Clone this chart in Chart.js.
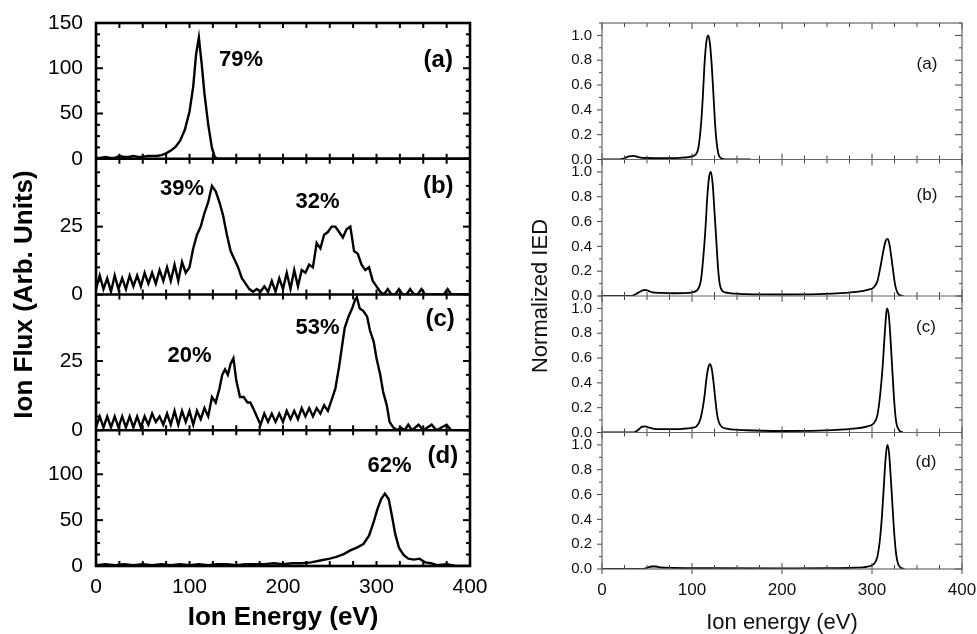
<!DOCTYPE html>
<html lang="en">
<head>
<meta charset="UTF-8">
<title>Ion energy distributions</title>
<script src="https://cdn.jsdelivr.net/npm/chart.js"></script>
<style>
  body { margin: 0; background: #fff; }
  #wrap { position: relative; width: 977px; height: 634px; overflow: hidden; }
  #wrap canvas { position: absolute; top: 0; }
  #fluxChart { left: 0; }
  #iedChart { left: 490px; }
</style>
</head>
<body>
<div id="wrap">
  <canvas id="fluxChart" width="490" height="634"></canvas>
  <canvas id="iedChart" width="487" height="634"></canvas>
</div>
<script>
const FONT = "'Liberation Sans', Arial, Helvetica, sans-serif";

// ---- left figure: measured ion flux (arb. units) ----
const fluxEnergyA = [0, 5, 10, 15, 20, 25, 30, 35, 40, 45,
  50, 55, 60, 65, 70, 75, 80, 85, 90, 95,
  100, 104, 107, 110, 113, 116, 120, 124, 127, 130, 400];
const fluxA = [1, 1, 2, 1, 1, 3, 2, 2, 3, 2,
  2, 3, 3, 3, 4, 6, 9, 13, 20, 32,
  52, 80, 115, 134, 105, 72, 38, 12, 2, 0, 0];

const fluxEnergyB = [0, 4, 8, 12, 16, 20, 24, 28, 32, 36,
  40, 44, 48, 52, 56, 60, 64, 68, 72, 76,
  80, 84, 88, 92, 96, 100, 104, 108, 112, 116,
  120, 124, 128, 132, 136, 140, 144, 148, 152, 156,
  160, 164, 168, 172, 176, 180, 184, 188, 192, 196,
  200, 204, 208, 212, 216, 220, 224, 228, 232, 236,
  240, 244, 248, 252, 256, 260, 264, 268, 272, 276,
  280, 284, 288, 292, 296, 300, 304, 308, 312, 316,
  320, 324, 328, 332, 336, 340, 344, 348, 352,
  360, 372, 376, 380, 400];
const fluxB = [2, 7, 2, 6, 1, 7, 2, 6, 2, 7,
  3, 7, 3, 8, 4, 8, 4, 9, 5, 10,
  5, 11, 5, 12, 8, 10, 17, 22, 25, 30,
  34, 40, 38, 34, 29, 22, 16, 13, 10, 6,
  4, 2, 1, 2, 1, 3, 1, 5, 1, 6,
  2, 8, 2, 9, 3, 9, 8, 11, 10, 19,
  17, 22, 23, 25, 25, 23, 21, 24, 25, 16,
  15, 11, 9, 10, 5, 3, 1, 0, 2, 0,
  0, 2, 0, 0, 2, 0, 0, 2, 0,
  0, 0, 2, 0, 0];

const fluxEnergyC = [0, 4, 8, 12, 16, 20, 24, 28, 32, 36,
  40, 44, 48, 52, 56, 60, 64, 68, 72, 76,
  80, 84, 88, 92, 96, 100, 104, 108, 112, 116,
  120, 124, 128, 132, 135, 138, 141, 144, 147, 150,
  154, 158, 162, 165, 168, 172, 176, 180, 184, 188,
  192, 196, 200, 204, 208, 212, 216, 220, 224, 228,
  232, 236, 240, 244, 248, 252, 256, 260, 263, 266,
  270, 274, 277, 279, 282, 286, 290, 293, 297, 300,
  304, 307, 311, 314, 318, 322, 326, 330, 334, 338,
  345, 350, 359, 364, 375, 380, 400];
const fluxC = [1, 5, 1, 5, 1, 5, 1, 5, 1, 5,
  1, 5, 1, 5, 2, 6, 3, 5, 2, 6,
  2, 7, 2, 7, 3, 7, 2, 7, 4, 8,
  5, 12, 10, 15, 20, 22, 20, 24, 26, 18,
  12, 12, 10, 10, 8, 5, 2, 6, 3, 6,
  3, 6, 3, 7, 4, 7, 4, 8, 5, 8,
  5, 8, 6, 9, 7, 11, 15, 23, 30, 37,
  41, 44, 47, 48, 44, 43, 41, 36, 32, 26,
  20, 14, 9, 3, 1, 0, 1, 0, 2, 0,
  2, 0, 2, 0, 2, 0, 0];

const fluxEnergyD = [0, 10, 20, 30, 40, 50, 60, 70, 80, 90,
  100, 110, 120, 130, 140, 150, 160, 170, 180, 190,
  200, 210, 220, 230, 240, 250,
  257, 265, 272, 279, 286, 292, 297, 301, 305, 309,
  313, 317, 320, 324, 329, 334, 340, 346, 352, 358,
  365, 375, 385, 400];
const fluxD = [1, 2, 1, 2, 1, 2, 1, 2, 1, 2,
  1, 2, 1, 2, 2, 1, 2, 2, 2, 3,
  2, 3, 3, 4, 6, 8,
  10, 13, 17, 20, 24, 33, 48, 62, 73, 79,
  73, 52, 35, 20, 12, 8, 7, 8, 4, 3,
  1, 2, 0, 0];

const fluxPercentText = ['79%', '39%', '32%', '20%', '53%', '62%'];
const fluxPercentAxis = ['ya', 'yb', 'yb', 'yc', 'yc', 'yd'];
const fluxPercentAt = [[155, 109], [92, 39], [237, 34], [100, 27], [237, 37], [314, 109]];
const fluxLetterAt = [[366, 109], [366, 40], [368, 40], [371, 120]];

// ---- right figure: simulated normalized IED ----
const iedEnergyA = [0, 20, 25, 30, 35, 40, 50, 70, 90, 100,
  104, 107, 110, 112, 114, 116, 118, 120, 122, 124,
  126, 128, 130, 134, 140, 165];
const iedA = [0, 0, 0.01, 0.025, 0.03, 0.02, 0.012, 0.01, 0.015, 0.025,
  0.04, 0.09, 0.28, 0.5, 0.78, 0.95, 1.0, 0.93, 0.75, 0.5,
  0.25, 0.1, 0.03, 0.005, 0, 0];

const iedEnergyB = [0, 30, 35, 40, 45, 48, 52, 56, 65, 80,
  95, 103, 107, 110, 113, 115, 117, 119, 121, 123,
  125, 127, 129, 131, 134, 140, 160, 200, 240, 270,
  285, 295, 302, 306, 309, 312, 315, 317, 319, 321,
  323, 325, 327, 330, 335];
const iedB = [0, 0, 0.005, 0.025, 0.045, 0.05, 0.04, 0.03, 0.025, 0.022,
  0.025, 0.035, 0.06, 0.13, 0.35, 0.55, 0.8, 0.96, 1.0, 0.9,
  0.68, 0.45, 0.22, 0.09, 0.04, 0.025, 0.015, 0.012, 0.015, 0.025,
  0.035, 0.05, 0.07, 0.12, 0.22, 0.34, 0.44, 0.46, 0.43, 0.34,
  0.23, 0.12, 0.05, 0.01, 0];

const iedEnergyC = [0, 35, 40, 44, 48, 52, 58, 70, 90, 100,
  105, 109, 112, 114, 116, 118, 120, 122, 124, 126,
  128, 130, 133, 140, 160, 200, 240, 270, 285, 295,
  302, 306, 309, 312, 314, 316, 317, 319, 321, 323,
  325, 327, 330, 334];
const iedC = [0, 0, 0.02, 0.045, 0.05, 0.04, 0.03, 0.027, 0.03, 0.038,
  0.05, 0.1, 0.2, 0.3, 0.43, 0.52, 0.55, 0.51, 0.4, 0.26,
  0.14, 0.08, 0.045, 0.03, 0.018, 0.012, 0.015, 0.025, 0.035, 0.05,
  0.075, 0.14, 0.3, 0.55, 0.78, 0.97, 1.0, 0.92, 0.7, 0.45,
  0.22, 0.08, 0.02, 0];

const iedEnergyD = [0, 45, 50, 55, 60, 65, 80, 120, 200, 250,
  280, 295, 302, 306, 309, 311, 313, 315, 317, 319,
  321, 323, 325, 327, 329, 332, 336];
const iedD = [0, 0, 0.01, 0.02, 0.02, 0.012, 0.008, 0.006, 0.005, 0.006,
  0.01, 0.02, 0.04, 0.1, 0.25, 0.42, 0.65, 0.88, 1.0, 0.93,
  0.72, 0.48, 0.26, 0.11, 0.04, 0.01, 0];

const iedTicks = [0, 0.2, 0.4, 0.6, 0.8, 1.0];
const iedLetterAt = [[361, 0.77], [361, 0.81], [360, 0.85], [360, 0.86]];

const panelLetters = ['(a)', '(b)', '(c)', '(d)'];
const panelIds = ['ya', 'yb', 'yc', 'yd'];
const ENERGY_MAX = 400;

function pairs(xs, ys) {
  return xs.map((x, i) => ({ x: x, y: ys[i] }));
}

// frame, tick marks and in-panel labels (ticks as small filled rects)
function panelDecor(cfg) {
  return {
    id: 'panelDecor',
    afterDraw(chart) {
      const ctx = chart.ctx;
      const ca = chart.chartArea;
      const xs = chart.scales.x;
      const w = cfg.tickWidth;
      ctx.save();
      ctx.fillStyle = cfg.color;
      cfg.panels.forEach(p => {
        const ys = chart.scales[p.id];
        const top = ys.top, bot = ys.bottom;
        for (let i = 0; i * cfg.xMinor <= ENERGY_MAX; i++) {
          const v = i * cfg.xMinor;
          const px = xs.getPixelForValue(v);
          const len = v % cfg.xMajor === 0 ? cfg.xMajorLen : cfg.xMinorLen;
          ctx.fillRect(px - w / 2, bot - len, w, len);
          ctx.fillRect(px - w / 2, top, w, len);
        }
        for (let i = 0; i * p.minor <= p.max + 1e-9; i++) {
          const v = i * p.minor;
          const py = ys.getPixelForValue(v);
          const major = Math.abs(v / p.major - Math.round(v / p.major)) < 1e-6;
          const l = major ? cfg.yMajorLen : cfg.yMinorLen;
          const r = major ? cfg.yMajorLenR : cfg.yMinorLenR;
          if (cfg.leftDir > 0) ctx.fillRect(ca.left, py - w / 2, l, w);
          else ctx.fillRect(ca.left - l, py - w / 2, l, w);
          ctx.fillRect(ca.right - r, py - w / 2, r, w);
        }
      });
      if (cfg.xOutLen) {
        for (let i = 0; i * cfg.xMajor <= ENERGY_MAX; i++) {
          const px = xs.getPixelForValue(i * cfg.xMajor);
          ctx.fillRect(px - w / 2, ca.bottom, w, cfg.xOutLen);
        }
      }

      ctx.strokeStyle = cfg.frameColor;
      ctx.lineWidth = cfg.frameWidth;
      ctx.strokeRect(ca.left, ca.top, ca.right - ca.left, ca.bottom - ca.top);
      ctx.beginPath();
      cfg.panels.slice(0, -1).forEach(p => {
        const y = chart.scales[p.id].bottom;
        ctx.moveTo(ca.left, y); ctx.lineTo(ca.right, y);
      });
      ctx.stroke();

      ctx.fillStyle = cfg.textColor;
      ctx.textAlign = 'center';
      ctx.textBaseline = 'middle';
      cfg.texts.forEach(t => {
        ctx.font = t.font;
        ctx.fillText(t.text, xs.getPixelForValue(t.x), chart.scales[t.axis].getPixelForValue(t.y));
      });
      ctx.restore();
    }
  };
}

function stackedAxis(weight, max, values, fmt, size, pad, width) {
  return {
    type: 'linear', position: 'left', stack: 'panels', stackWeight: 1, weight: weight,
    min: 0, max: max,
    grid: { display: false, drawTicks: false },
    border: { display: false },
    ticks: { autoSkip: false, padding: pad, color: '#000', font: { family: FONT, size: size }, callback: fmt },
    afterBuildTicks: s => { s.ticks = values.map(v => ({ value: v })); },
    afterFit: s => { s.width = width; s.paddingTop = 0; s.paddingBottom = 0; }
  };
}

// ---------- left chart ----------
const fluxSets = [[fluxEnergyA, fluxA], [fluxEnergyB, fluxB], [fluxEnergyC, fluxC], [fluxEnergyD, fluxD]];
const fluxMax = [150, 50, 49, 148];
const fluxTickVals = [[0, 50, 100, 150], [0, 25], [0, 25], [0, 50, 100]];
const fluxMajor = [50, 25, 25, 50];
const fluxMinor = [12.5, 5, 5, 12.5];

const fluxScales = {
  x: {
    type: 'linear', min: 0, max: ENERGY_MAX,
    grid: { display: false, drawTicks: false }, border: { display: false },
    ticks: { stepSize: 100, padding: 9, color: '#000', font: { family: FONT, size: 21 } },
    title: { display: true, text: 'Ion Energy (eV)', color: '#000', padding: { top: 0, bottom: 1 },
      font: { family: FONT, size: 26, weight: 'bold' } },
    afterFit: s => { s.height = 68; s.paddingLeft = 0; s.paddingRight = 0; }
  },
  yt: {
    type: 'linear', position: 'left', weight: 10,
    grid: { display: false, drawTicks: false }, border: { display: false },
    ticks: { display: false },
    title: { display: true, text: 'Ion Flux (Arb. Units)', color: '#000', padding: { top: 9, bottom: 0 },
      font: { family: FONT, size: 26, weight: 'bold' } },
    afterFit: s => { s.width = 40; s.paddingTop = 0; s.paddingBottom = 0; }
  }
};
panelIds.forEach((id, i) => {
  fluxScales[id] = stackedAxis(4 - i, fluxMax[i], fluxTickVals[i], v => String(v), 21, 13, 56);
});

const fluxTexts = [];
fluxPercentText.forEach((t, i) => fluxTexts.push({ text: t, axis: fluxPercentAxis[i],
  x: fluxPercentAt[i][0], y: fluxPercentAt[i][1], font: 'bold 22px ' + FONT }));
panelLetters.forEach((t, i) => fluxTexts.push({ text: t, axis: panelIds[i],
  x: fluxLetterAt[i][0], y: fluxLetterAt[i][1], font: 'bold 24px ' + FONT }));

new Chart(document.getElementById('fluxChart'), {
  type: 'line',
  data: {
    datasets: fluxSets.map((s, i) => ({
      data: pairs(s[0], s[1]), yAxisID: panelIds[i],
      borderColor: '#000', borderWidth: 2.4, tension: 0, pointRadius: 0, fill: false
    }))
  },
  options: {
    responsive: false, animation: false, devicePixelRatio: 1,
    layout: { padding: { top: 23, right: 20, bottom: 0, left: 0 } },
    plugins: { legend: { display: false }, tooltip: { enabled: false } },
    scales: fluxScales
  },
  plugins: [panelDecor({
    color: '#000', tickWidth: 2, frameColor: '#000', frameWidth: 2.6, textColor: '#000',
    xMinor: 25, xMajor: 50, xMinorLen: 5, xMajorLen: 5, xOutLen: 0,
    leftDir: 1, yMajorLen: 7, yMinorLen: 4, yMajorLenR: 7, yMinorLenR: 4,
    panels: panelIds.map((id, i) => ({ id: id, max: fluxMax[i], major: fluxMajor[i], minor: fluxMinor[i] })),
    texts: fluxTexts
  })]
});

// ---------- right chart ----------
const iedSets = [[iedEnergyA, iedA], [iedEnergyB, iedB], [iedEnergyC, iedC], [iedEnergyD, iedD]];

const iedScales = {
  x: {
    type: 'linear', min: 0, max: ENERGY_MAX,
    grid: { display: false, drawTicks: false }, border: { display: false },
    ticks: { stepSize: 100, padding: 11, color: '#111', font: { family: FONT, size: 17 } },
    title: { display: true, text: 'Ion energy (eV)', color: '#111', padding: { top: 0, bottom: 0 },
      font: { family: FONT, size: 22, lineHeight: 1 } },
    afterFit: s => { s.height = 65; s.paddingLeft = 0; s.paddingRight = 0; }
  },
  yt: {
    type: 'linear', position: 'left', weight: 10,
    grid: { display: false, drawTicks: false }, border: { display: false },
    ticks: { display: false },
    title: { display: true, text: 'Normalized IED', color: '#111', padding: { top: 38, bottom: 0 },
      font: { family: FONT, size: 22 } },
    afterFit: s => { s.width = 70; s.paddingTop = 0; s.paddingBottom = 0; }
  }
};
panelIds.forEach((id, i) => {
  iedScales[id] = stackedAxis(4 - i, 1.1, iedTicks, v => v.toFixed(1), 15, 10, 42);
  iedScales[id].ticks.color = '#111';
});

const iedTexts = panelLetters.map((t, i) => ({ text: t, axis: panelIds[i],
  x: iedLetterAt[i][0], y: iedLetterAt[i][1], font: '17px ' + FONT }));

new Chart(document.getElementById('iedChart'), {
  type: 'line',
  data: {
    datasets: iedSets.map((s, i) => ({
      data: pairs(s[0], s[1]), yAxisID: panelIds[i],
      borderColor: '#000', borderWidth: 1.8, tension: 0.4, cubicInterpolationMode: 'monotone',
      pointRadius: 0, fill: false
    }))
  },
  options: {
    responsive: false, animation: false, devicePixelRatio: 1,
    layout: { padding: { top: 23, right: 15, bottom: 0, left: 0 } },
    plugins: { legend: { display: false }, tooltip: { enabled: false } },
    scales: iedScales
  },
  plugins: [panelDecor({
    color: '#444', tickWidth: 1, frameColor: '#666', frameWidth: 1.2, textColor: '#111',
    xMinor: 25, xMajor: 100, xMinorLen: 4, xMajorLen: 6, xOutLen: 5,
    leftDir: -1, yMajorLen: 5, yMinorLen: 3, yMajorLenR: 7, yMinorLenR: 3,
    panels: panelIds.map(id => ({ id: id, max: 1.1, major: 0.2, minor: 0.1 })),
    texts: iedTexts
  })]
});
</script>
</body>
</html>
